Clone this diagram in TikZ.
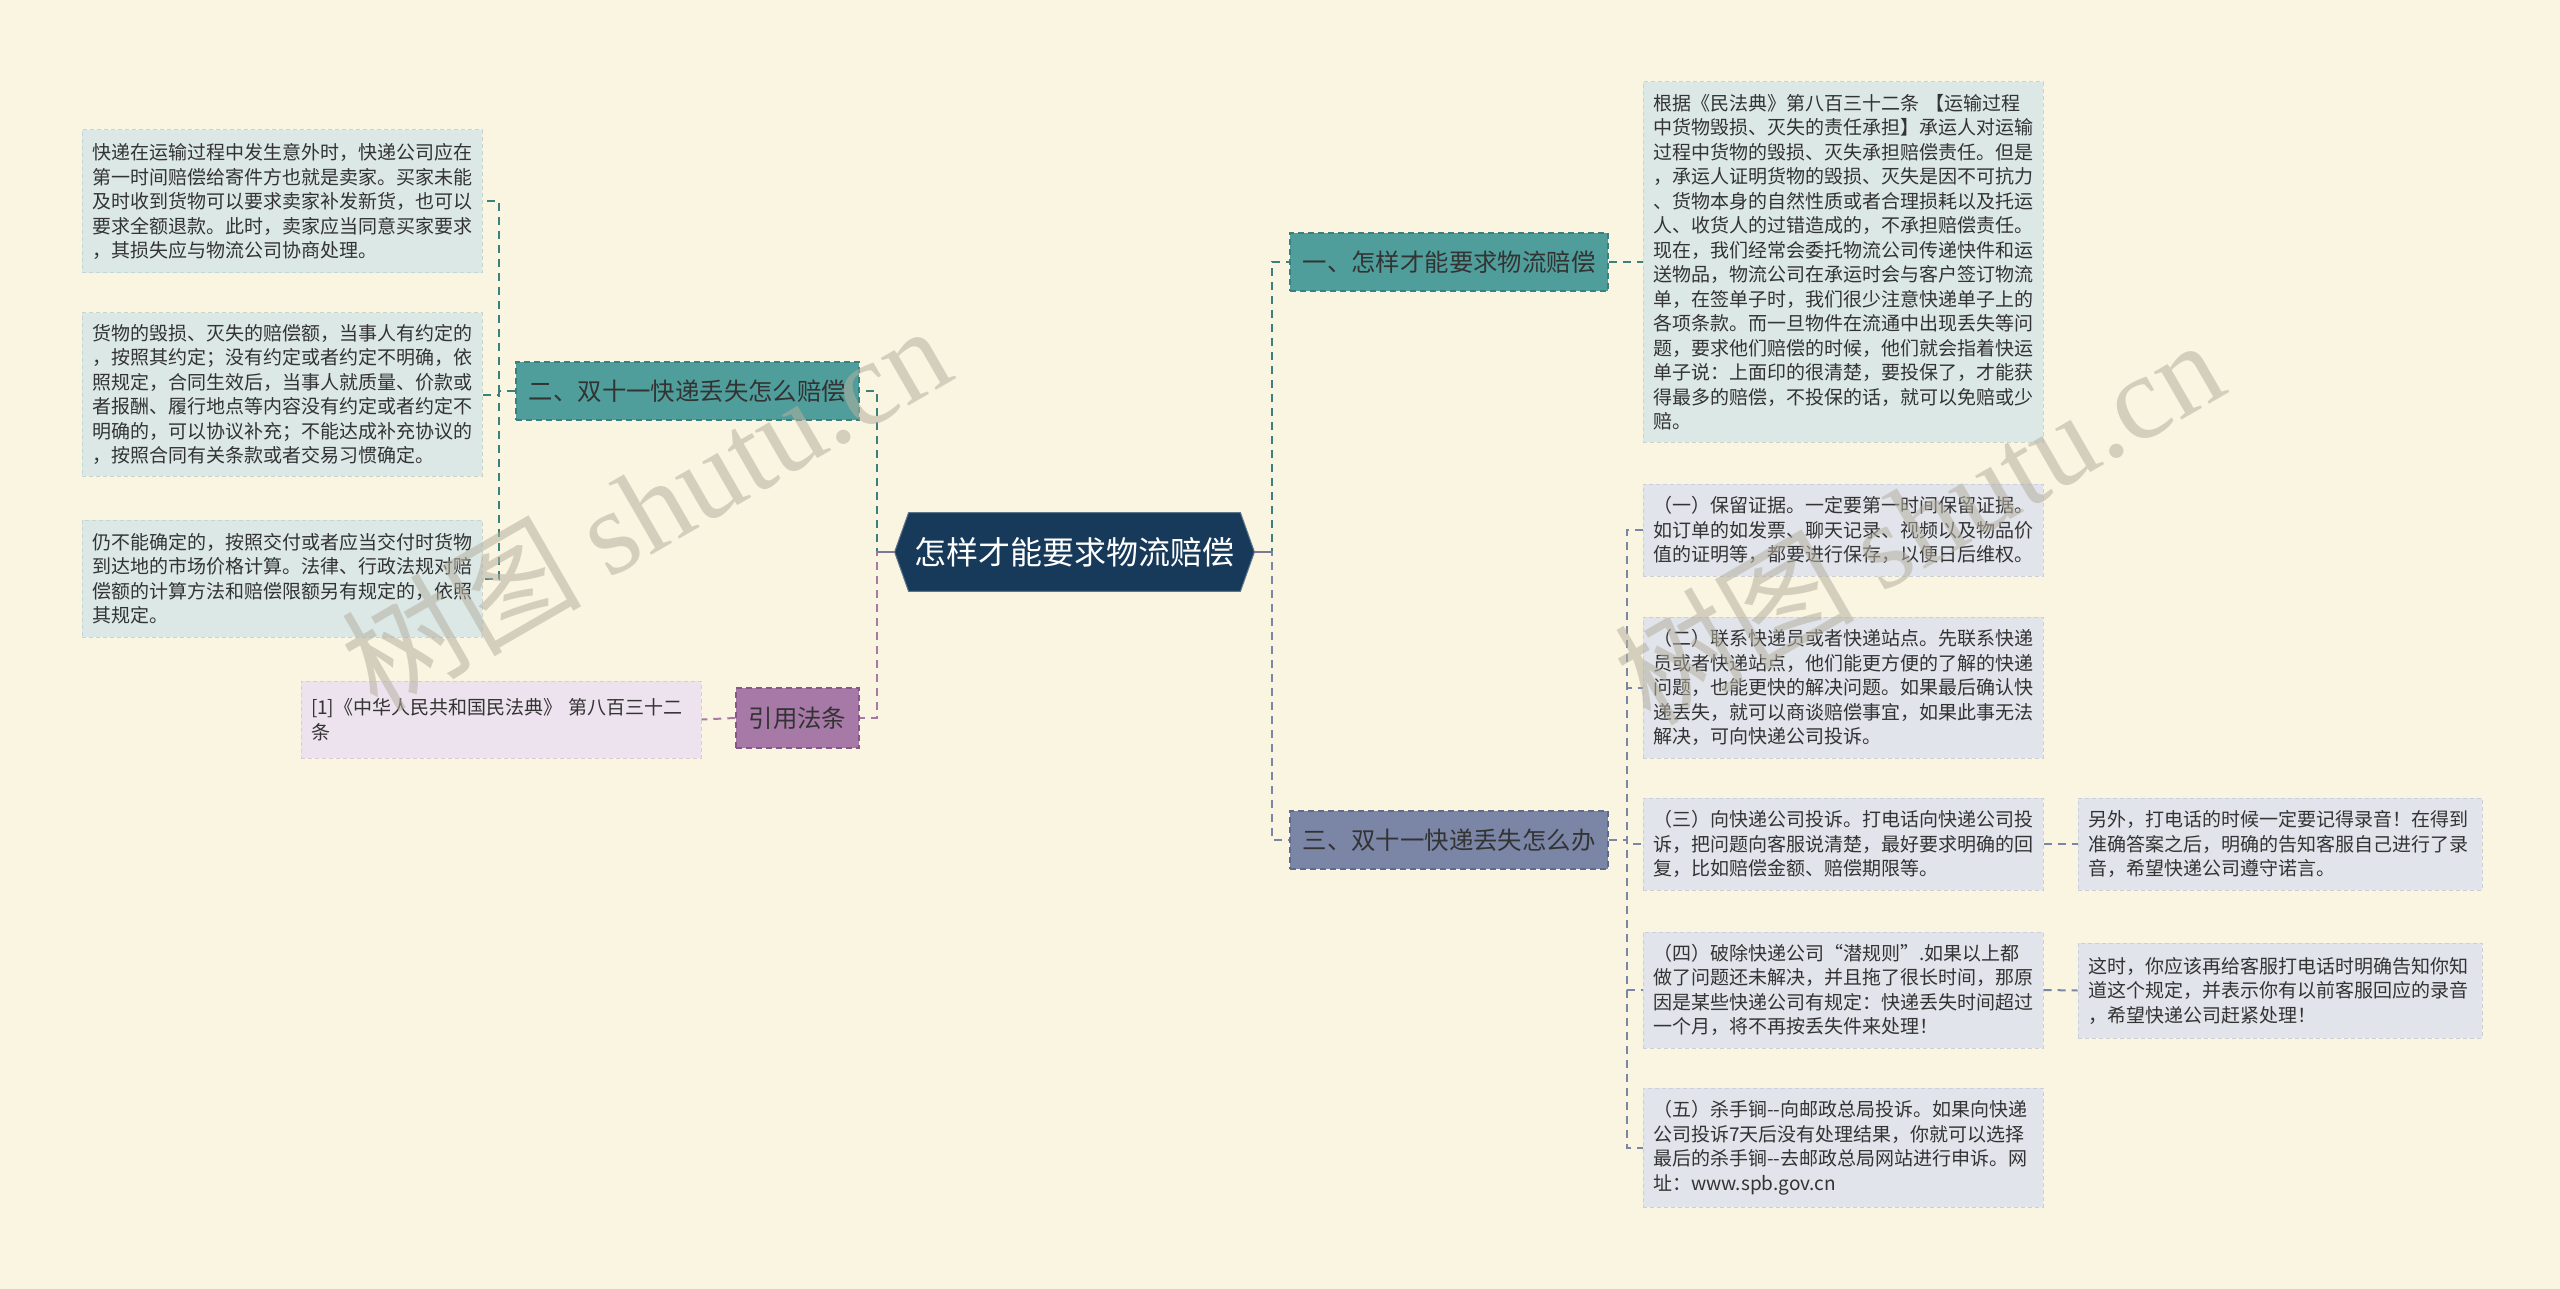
\documentclass[tikz,border=0pt]{standalone}
\usepackage{fontspec}
\setmainfont{Noto Sans CJK SC}[Ligatures=TeXOff]
\newfontfamily\wmserif{Liberation Serif}
\usetikzlibrary{calc}
\definecolor{bg}{HTML}{FAF5E0}
\definecolor{navy}{HTML}{173A5A}
\definecolor{tealb}{HTML}{4F9E9B}
\definecolor{teald}{HTML}{3B807D}
\definecolor{slate}{HTML}{7B86A7}
\definecolor{slated}{HTML}{5F6A8C}
\definecolor{purp}{HTML}{A679A6}
\definecolor{purpd}{HTML}{86588A}
\definecolor{leafA}{HTML}{DCE8E6}
\definecolor{leafAd}{HTML}{C4D6D4}
\definecolor{leafB}{HTML}{E1E4EB}
\definecolor{leafBd}{HTML}{CACFDB}
\definecolor{leafC}{HTML}{EDE3EE}
\definecolor{leafCd}{HTML}{DACBDC}
\definecolor{txt}{HTML}{333333}
\definecolor{hexline}{HTML}{7E7698}
\definecolor{wm}{HTML}{B5B0A0}
\begin{document}
\begin{tikzpicture}[x=0.5pt,y=-0.5pt,
  leaf/.style={rectangle, text width=190pt, inner xsep=5pt, inner ysep=2pt, align=left,
    font=\fontsize{9.5}{12.25}\selectfont, text=txt, dash pattern=on 2pt off 1.5pt, line width=0.5pt},
  leafA/.style={leaf, fill=leafA, draw=leafAd},
  leafB/.style={leaf, fill=leafB, draw=leafBd},
  leafC/.style={leaf, fill=leafC, draw=leafCd},
  branch/.style={rectangle, minimum height=29pt, inner sep=0pt, font=\fontsize{12.2}{14}\selectfont,
    text=txt, line width=0.75pt, dash pattern=on 3pt off 2pt},
  conn/.style={line width=1pt, dash pattern=on 4pt off 3pt},
  wmark/.style={rotate=30, text=wm, opacity=0.55, font=\fontsize{60}{60}\selectfont}
]
\useasboundingbox (0,0) rectangle (2560,1289);
\fill[bg] (0,0) rectangle (2560,1289);

% central node
\node[minimum width=179.5pt, minimum height=39pt, inner sep=0pt] (hex) at (1074.5,552) {};
\fill[navy, draw=navy!70!white, line width=0.5pt] (hex.west) -- ([xshift=7pt]hex.north west) -- ([xshift=-7pt]hex.north east)
  -- (hex.east) -- ([xshift=-7pt]hex.south east) -- ([xshift=7pt]hex.south west) -- cycle;
\node[text=white, font=\fontsize{16}{18}\selectfont] (hext) at (hex.center) {怎样才能要求物流赔偿};

% branches
\node[branch, minimum width=159pt, fill=tealb, draw=teald] (b1) at (1449,262) {一、怎样才能要求物流赔偿};
\node[branch, minimum width=159pt, fill=slate, draw=slated] (b3) at (1449,840) {三、双十一快递丢失怎么办};
\node[branch, minimum width=171.5pt, fill=tealb, draw=teald] (b2) at (687.5,391) {二、双十一快递丢失怎么赔偿};
\node[branch, minimum width=61.5pt, minimum height=30pt, fill=purp, draw=purpd] (bref) at (797.5,718) {引用法条};

% left leaves
\node[leafA, minimum height=71.5pt] (L1) at (282,201.5) {快递在运输过程中发生意外时，快递公司应在\\第一时间赔偿给寄件方也就是卖家。买家未能\\及时收到货物可以要求卖家补发新货，也可以\\要求全额退款。此时，卖家应当同意买家要求\\，其损失应与物流公司协商处理。};
\node[leafA, minimum height=81.5pt] (L2) at (282,394.5) {货物的毁损、灭失的赔偿额，当事人有约定的\\，按照其约定；没有约定或者约定不明确，依\\照规定，合同生效后，当事人就质量、价款或\\者报酬、履行地点等内容没有约定或者约定不\\明确的，可以协议补充；不能达成补充协议的\\，按照合同有关条款或者交易习惯确定。};
\node[leafA, minimum height=58.5pt] (L3) at (282,578.5) {仍不能确定的，按照交付或者应当交付时货物\\到达地的市场价格计算。法律、行政法规对赔\\偿额的计算方法和赔偿限额另有规定的，依照\\其规定。};
\node[leafC, minimum height=38.5pt] (cit) at (501,719.5) {[1]《中华人民共和国民法典》 第八百三十二\\条};

% right leaves
\node[leafA, minimum height=180pt] (R0) at (1843,262) {根据《民法典》第八百三十二条 【运输过程\\中货物毁损、灭失的责任承担】承运人对运输\\过程中货物的毁损、灭失承担赔偿责任。但是\\，承运人证明货物的毁损、灭失是因不可抗力\\、货物本身的自然性质或者合理损耗以及托运\\人、收货人的过错造成的，不承担赔偿责任。\\现在，我们经常会委托物流公司传递快件和运\\送物品，物流公司在承运时会与客户签订物流\\单，在签单子时，我们很少注意快递单子上的\\各项条款。而一旦物件在流通中出现丢失等问\\题，要求他们赔偿的时候，他们就会指着快运\\单子说：上面印的很清楚，要投保了，才能获\\得最多的赔偿，不投保的话，就可以免赔或少\\赔。};
\node[leafB, minimum height=46pt] (R1) at (1843,530) {（一）保留证据。一定要第一时间保留证据。\\如订单的如发票、聊天记录、视频以及物品价\\值的证明等，都要进行保存，以便日后维权。};
\node[leafB, minimum height=70.5pt] (R2) at (1843,687.5) {（二）联系快递员或者快递站点。先联系快递\\员或者快递站点，他们能更方便的了解的快递\\问题，也能更快的解决问题。如果最后确认快\\递丢失，就可以商谈赔偿事宜，如果此事无法\\解决，可向快递公司投诉。};
\node[leafB, minimum height=46pt] (R3) at (1843,844) {（三）向快递公司投诉。打电话向快递公司投\\诉，把问题向客服说清楚，最好要求明确的回\\复，比如赔偿金额、赔偿期限等。};
\node[leafB, minimum height=58pt] (R4) at (1843,990) {（四）破除快递公司“潜规则”.如果以上都\\做了问题还未解决，并且拖了很长时间，那原\\因是某些快递公司有规定：快递丢失时间超过\\一个月，将不再按丢失件来处理！};
\node[leafB, minimum height=59.5pt] (R5) at (1843,1147.5) {（五）杀手锏-\kern0pt-向邮政总局投诉。如果向快递\\公司投诉7天后没有处理结果，你就可以选择\\最后的杀手锏-\kern0pt-去邮政总局网站进行申诉。网\\址：www.spb.gov.cn};
\node[leafB, text width=192pt, minimum height=46pt] (F3) at (2280,844) {另外，打电话的时候一定要记得录音！在得到\\准确答案之后，明确的告知客服自己进行了录\\音，希望快递公司遵守诺言。};
\node[leafB, text width=192pt, minimum height=47.5pt] (F4) at (2280,990.5) {这时，你应该再给客服打电话时明确告知你知\\道这个规定，并表示你有以前客服回应的录音\\，希望快递公司赶紧处理！};

% connectors
\draw[conn, teald] (hex.east) -- ++(18,0) |- (b1.west);
\draw[conn, slate] (hex.east) -- ++(18,0) |- (b3.west);
\draw[hexline, line width=1pt] (hex.east) -- ++(18,0);
\draw[conn, teald] (hex.west) -- ++(-18,0) |- (b2.east);
\draw[conn, purp] (hex.west) -- ++(-18,0) |- (bref.east);
\draw[hexline, line width=1pt] (hex.west) -- ++(-18,0);

\draw[conn, teald] (b2.west) -- ++(-16,0) |- (L1.east);
\draw[conn, teald] (b2.west) -- ++(-16,0) |- (L2.east);
\draw[conn, teald] (b2.west) -- ++(-16,0) |- (L3.east);
\draw[conn, purp] (bref.west) -- (cit.east);

\draw[conn, teald] (b1.east) -- (R0.west);
\draw[conn, slate] (b3.east) -- ++(18,0) |- (R1.west);
\draw[conn, slate] (b3.east) -- ++(18,0) |- (R2.west);
\draw[conn, slate] (b3.east) -- ++(18,0) |- (R3.west);
\draw[conn, slate] (b3.east) -- ++(18,0) |- (R4.west);
\draw[conn, slate] (b3.east) -- ++(18,0) |- (R5.west);
\draw[conn, slate] (R3.east) -- (F3.west);
\draw[conn, slate] (R4.east) -- (F4.west);

% watermarks
\node[wmark] (wm1) at (645,506) {树图 {\wmserif shutu.cn}};
\node[wmark] (wm2) at (1918,520) {树图 {\wmserif shutu.cn}};
\end{tikzpicture}
\end{document}
